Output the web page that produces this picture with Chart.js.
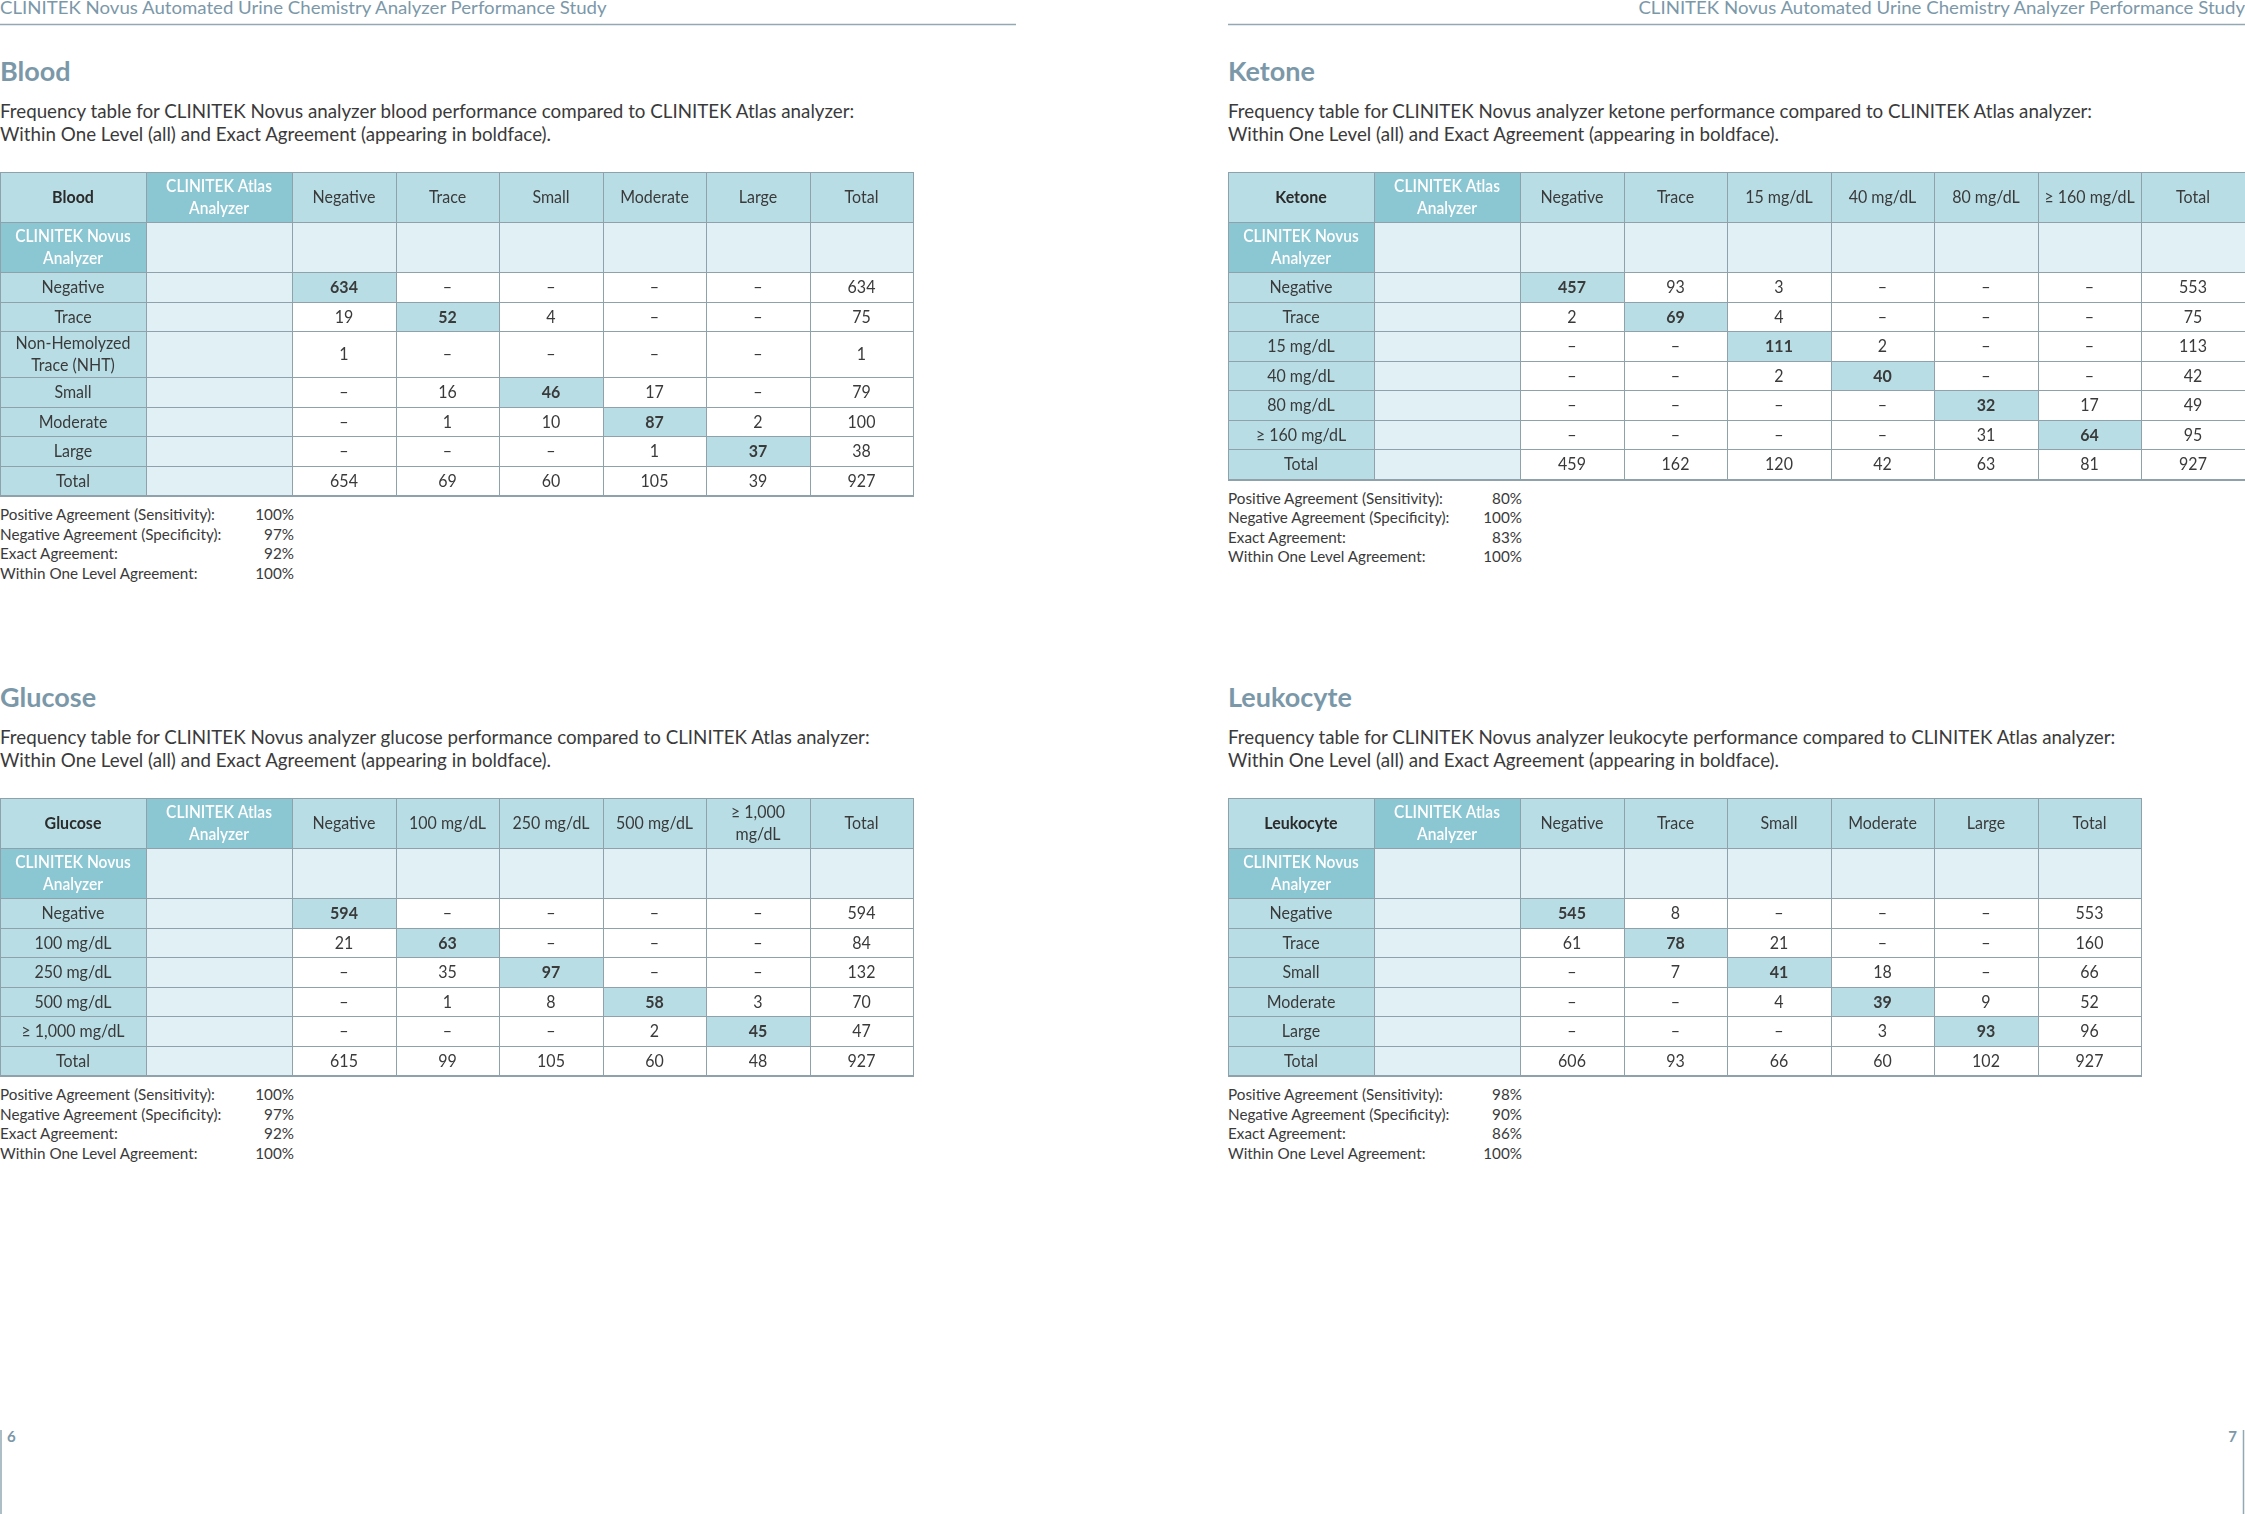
<!DOCTYPE html>
<html>
<head>
<meta charset="utf-8">
<script src="https://cdn.jsdelivr.net/npm/chart.js@4.4.0/dist/chart.umd.min.js"></script>
<style>
  html, body { margin: 0; padding: 0; background: #fff; }
  body { width: 2245px; height: 1514px; position: relative; overflow: hidden; font-family: Lato, "Noto Sans", sans-serif; }
  #page { position: absolute; left: 0; top: 0; }
  canvas { position: absolute; }
</style>
</head>
<body>
<svg id="page" width="2245" height="1514"></svg>
<script>
// ---- data ----
const runningHead = 'CLINITEK Novus Automated Urine Chemistry Analyzer Performance Study';
const statLabels = ['Positive Agreement (Sensitivity):', 'Negative Agreement (Specificity):', 'Exact Agreement:', 'Within One Level Agreement:'];

const bloodCols = ['Negative', 'Trace', 'Small', 'Moderate', 'Large', 'Total'];
const bloodRows = ['Negative', 'Trace', 'Non-Hemolyzed\nTrace (NHT)', 'Small', 'Moderate', 'Large', 'Total'];
const bloodValues = [
  [634, null, null, null, null, 634],
  [19, 52, 4, null, null, 75],
  [1, null, null, null, null, 1],
  [null, 16, 46, 17, null, 79],
  [null, 1, 10, 87, 2, 100],
  [null, null, null, 1, 37, 38],
  [654, 69, 60, 105, 39, 927]
];
const bloodStats = [100, 97, 92, 100];

const ketoneCols = ['Negative', 'Trace', '15 mg/dL', '40 mg/dL', '80 mg/dL', '≥ 160 mg/dL', 'Total'];
const ketoneRows = ['Negative', 'Trace', '15 mg/dL', '40 mg/dL', '80 mg/dL', '≥ 160 mg/dL', 'Total'];
const ketoneValues = [
  [457, 93, 3, null, null, null, 553],
  [2, 69, 4, null, null, null, 75],
  [null, null, 111, 2, null, null, 113],
  [null, null, 2, 40, null, null, 42],
  [null, null, null, null, 32, 17, 49],
  [null, null, null, null, 31, 64, 95],
  [459, 162, 120, 42, 63, 81, 927]
];
const ketoneStats = [80, 100, 83, 100];

const glucoseCols = ['Negative', '100 mg/dL', '250 mg/dL', '500 mg/dL', '≥ 1,000\nmg/dL', 'Total'];
const glucoseRows = ['Negative', '100 mg/dL', '250 mg/dL', '500 mg/dL', '≥ 1,000 mg/dL', 'Total'];
const glucoseValues = [
  [594, null, null, null, null, 594],
  [21, 63, null, null, null, 84],
  [null, 35, 97, null, null, 132],
  [null, 1, 8, 58, 3, 70],
  [null, null, null, 2, 45, 47],
  [615, 99, 105, 60, 48, 927]
];
const glucoseStats = [100, 97, 92, 100];

const leukocyteCols = ['Negative', 'Trace', 'Small', 'Moderate', 'Large', 'Total'];
const leukocyteRows = ['Negative', 'Trace', 'Small', 'Moderate', 'Large', 'Total'];
const leukocyteValues = [
  [545, 8, null, null, null, 553],
  [61, 78, 21, null, null, 160],
  [null, 7, 41, 18, null, 66],
  [null, null, 4, 39, 9, 52],
  [null, null, null, 3, 93, 96],
  [606, 93, 66, 60, 102, 927]
];
const leukocyteStats = [98, 90, 86, 100];

// ---- look ----
const LIGHT = '#b8dde5', DARK = '#8bc6d3', PALE = '#e0f0f4', GRID = '#8fa2ac';
const INK = '#3a3a3a', ACCENT = '#7b98a9';
const UNIT_W = 103.5, UNIT_H = 29.5;
const LABEL_W = 146 / UNIT_W, HEAD_H = 50 / UNIT_H, TWO_LINE_H = 46 / UNIT_H;
const SQ = 0.94; // the source face is a little narrower than Lato

const svg = document.getElementById('page');
const NS = 'http://www.w3.org/2000/svg';
function addText(str, x, y, style, anchor, squeeze) {
  const t = document.createElementNS(NS, 'text');
  t.textContent = str;
  t.setAttribute('transform', `translate(${x},${y}) scale(${squeeze || 1},1)`);
  t.setAttribute('style', style);
  if (anchor) t.setAttribute('text-anchor', anchor);
  svg.appendChild(t);
  return t;
}
function addLine(x1, y1, x2, y2, w) {
  const l = document.createElementNS(NS, 'line');
  l.setAttribute('x1', x1); l.setAttribute('y1', y1);
  l.setAttribute('x2', x2); l.setAttribute('y2', y2);
  l.setAttribute('stroke', '#93a8b3'); l.setAttribute('stroke-width', w);
  svg.appendChild(l);
}
function fitFactor(str, style, target) {
  const t = addText(str, 0, -100, style);
  const f = target / t.getComputedTextLength();
  t.remove();
  return f;
}
const cum = arr => arr.reduce((acc, v) => { acc.push(acc[acc.length - 1] + v); return acc; }, [0]);
const norm = s => s.replace(/\s+/g, ' ');

const cellTable = {
  id: 'cellTable',
  afterDraw(chart, args, o) {
    const { ctx } = chart;
    const xs = chart.scales.x, ys = chart.scales.y;
    const X = v => Math.round(xs.getPixelForValue(v));
    const Y = v => Math.round(ys.getPixelForValue(v));
    const ce = o.colEdges, re = o.rowEdges;
    const nC = ce.length - 1, nR = re.length - 1;
    function cell(r, c) {
      if (r === 0 && c === 0) return { fill: LIGHT, text: o.name, font: '700 17px Lato', color: '#2b2b2b' };
      if (r === 0 && c === 1) return { fill: DARK, text: 'CLINITEK Atlas\nAnalyzer', font: '600 16.5px Lato', color: '#fff' };
      if (r === 0) return { fill: LIGHT, text: o.cols[c - 2], font: '400 17px Lato', color: INK };
      if (r === 1 && c === 0) return { fill: DARK, text: 'CLINITEK Novus\nAnalyzer', font: '600 16.5px Lato', color: '#fff' };
      if (r === 1 || c === 1) return { fill: PALE, text: '' };
      if (c === 0) return { fill: LIGHT, text: o.rows[r - 2], font: '400 17px Lato', color: INK };
      const rl = norm(o.rows[r - 2]), cl = norm(o.cols[c - 2]);
      const v = o.values[r - 2][c - 2];
      const exact = rl === cl && rl !== 'Total';
      return { fill: exact ? LIGHT : '#ffffff', text: v === null ? '–' : String(v), font: (exact ? '700' : '400') + ' 17px Lato', color: INK };
    }
    ctx.save();
    for (let r = 0; r < nR; r++) {
      for (let c = 0; c < nC; c++) {
        const k = cell(r, c);
        const x0 = X(ce[c]), x1 = X(ce[c + 1]), y0 = Y(re[r]), y1 = Y(re[r + 1]);
        ctx.fillStyle = k.fill;
        ctx.fillRect(x0, y0, x1 - x0, y1 - y0);
        if (!k.text) continue;
        ctx.font = k.font;
        ctx.fillStyle = k.color;
        ctx.textAlign = 'center';
        ctx.textBaseline = 'alphabetic';
        const lines = k.text.split('\n');
        const lh = 21.5;
        const size = parseFloat(k.font.split(' ')[1]);
        const cy = (y0 + y1) / 2 - (lines.length - 1) * lh / 2 + size * 0.36;
        lines.forEach((ln, n) => {
          ctx.save();
          ctx.translate((x0 + x1) / 2, cy + n * lh);
          ctx.scale(SQ, 1);
          ctx.fillText(ln, 0, 0);
          ctx.restore();
        });
      }
    }
    ctx.strokeStyle = GRID;
    ctx.lineWidth = 1;
    ctx.beginPath();
    ce.forEach(e => { const x = X(e) + 0.5; ctx.moveTo(x, Y(0)); ctx.lineTo(x, Y(re[nR])); });
    re.forEach(e => { const y = Y(e) + 0.5; ctx.moveTo(X(0), y); ctx.lineTo(X(ce[nC]) + 1, y); });
    ctx.stroke();
    ctx.lineWidth = 2;
    ctx.beginPath();
    ctx.moveTo(X(0), Y(re[nR]) + 1);
    ctx.lineTo(X(ce[nC]) + 1, Y(re[nR]) + 1);
    ctx.stroke();
    ctx.restore();
  }
};

function drawTable(name, cols, rows, values, left, top) {
  const colEdges = cum([LABEL_W, LABEL_W, ...cols.map(() => 1)]);
  const rowEdges = cum([HEAD_H, HEAD_H, ...rows.map(r => r.includes('\n') ? TWO_LINE_H : 1)]);
  const w = colEdges[colEdges.length - 1] * UNIT_W, h = rowEdges[rowEdges.length - 1] * UNIT_H;
  const canvas = document.createElement('canvas');
  canvas.width = Math.ceil(w) + 3;
  canvas.height = Math.ceil(h) + 4;
  canvas.style.left = (left - 1) + 'px';
  canvas.style.top = (top - 1) + 'px';
  document.body.appendChild(canvas);
  new Chart(canvas.getContext('2d'), {
    type: 'scatter',
    data: { datasets: [{ data: [] }] },
    options: {
      responsive: false, animation: false, events: [],
      layout: { padding: { left: 1, top: 1, right: canvas.width - 1 - w, bottom: canvas.height - 1 - h } },
      plugins: { legend: { display: false }, tooltip: { enabled: false },
        cellTable: { name, cols, rows, values, colEdges, rowEdges } },
      scales: {
        x: { type: 'linear', display: false, min: 0, max: colEdges[colEdges.length - 1] },
        y: { type: 'linear', display: false, reverse: true, min: 0, max: rowEdges[rowEdges.length - 1] }
      }
    },
    plugins: [cellTable]
  });
  return top + h;
}

const paraStyle = `font-family:Lato;font-size:19.5px;fill:${INK}`;
const paraSq = fitFactor('Frequency table for CLINITEK Novus analyzer blood performance compared to CLINITEK Atlas analyzer:', paraStyle, 855);
const statStyle = `font-family:Lato;font-size:15.5px;fill:${INK}`;
const statSq = Math.max(0.9, fitFactor(statLabels[0], statStyle, 215));
const headStyle = `font-family:Lato;font-size:18px;fill:${ACCENT}`;
const headSq = fitFactor(runningHead, headStyle, 607);

function panel(name, cols, rows, values, stats, ox, oy) {
  addText(name, ox, 81 + oy, `font-family:Lato;font-size:27px;font-weight:700;fill:${ACCENT}`);
  addText(`Frequency table for CLINITEK Novus analyzer ${name.toLowerCase()} performance compared to CLINITEK Atlas analyzer:`, ox, 117.5 + oy, paraStyle, null, paraSq);
  addText('Within One Level (all) and Exact Agreement (appearing in boldface).', ox, 140.5 + oy, paraStyle, null, paraSq);
  const bottom = drawTable(name, cols, rows, values, ox, 172 + oy);
  stats.forEach((s, i) => {
    const y = bottom + 25 + i * 19.5;
    addText(statLabels[i], ox, y, statStyle, null, statSq);
    addText(s + '%', ox + 294, y, statStyle, 'end', statSq);
  });
}

// running heads, rules, folios
addText(runningHead, 0, 14, headStyle, null, headSq);
addText(runningHead, 2245, 14, headStyle, 'end', headSq);
addLine(0, 24.5, 1016, 24.5, 1.5);
addLine(1228, 24.5, 2245, 24.5, 1.5);
addLine(1, 1430, 1, 1514, 1.5);
addLine(2243.5, 1430, 2243.5, 1514, 1.5);
addText('6', 7, 1442, `font-family:Lato;font-size:15px;font-weight:700;fill:${ACCENT}`);
addText('7', 2237, 1442, `font-family:Lato;font-size:15px;font-weight:700;fill:${ACCENT}`, 'end');

panel('Blood', bloodCols, bloodRows, bloodValues, bloodStats, 0, 0);
panel('Ketone', ketoneCols, ketoneRows, ketoneValues, ketoneStats, 1228, 0);
panel('Glucose', glucoseCols, glucoseRows, glucoseValues, glucoseStats, 0, 626);
panel('Leukocyte', leukocyteCols, leukocyteRows, leukocyteValues, leukocyteStats, 1228, 626);
</script>
</body>
</html>
